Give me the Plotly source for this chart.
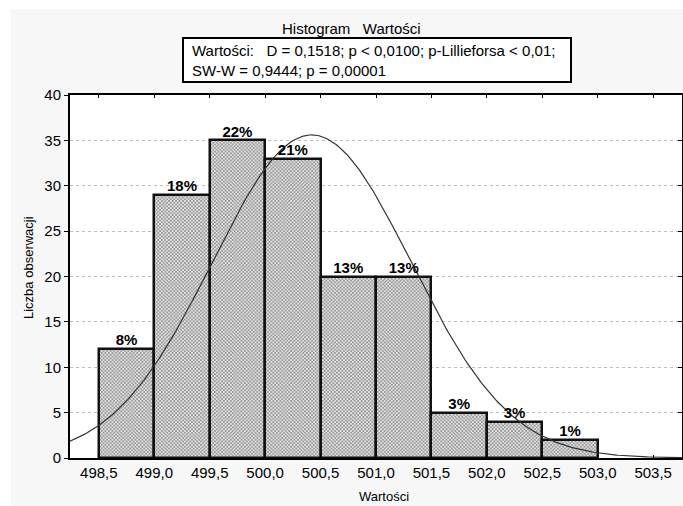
import numpy as np
import plotly.graph_objects as go

# ---- data ----
bin_left = [498.5, 499.0, 499.5, 500.0, 500.5, 501.0, 501.5, 502.0, 502.5]
counts = [12, 29, 35, 33, 20, 20, 5, 4, 2]
pct_labels = ["8%", "18%", "22%", "21%", "13%", "13%", "3%", "3%", "1%"]
bin_width = 0.5
x_ticks = [498.5, 499.0, 499.5, 500.0, 500.5, 501.0, 501.5, 502.0, 502.5, 503.0, 503.5]
y_ticks = [0, 5, 10, 15, 20, 25, 30, 35, 40]
fit_mean = 500.42
fit_sd = 0.8965
n_obs = sum(counts)

title_text = "Histogram   Wartości"
stats_text = ("Wartości:   D = 0,1518; p < 0,0100; p-Lillieforsa < 0,01;<br>"
              "SW-W = 0,9444; p = 0,00001")
x_title = "Wartości"
y_title = "Liczba obserwacji"

# ---- figure geometry ----
W, H = 683, 506
ML, MR, MT, MB = 70, 1, 95, 48
PW, PH = W - ML - MR, H - MT - MB
x_range = [498.24, 503.76]


def px_x(p):
    return (p - ML) / PW


def px_y(p):
    return (H - MB - p) / PH


centers = [b + bin_width / 2 for b in bin_left]

FONT = "Liberation Sans, Arial, sans-serif"

fig = go.Figure()

fig.add_trace(go.Bar(
    x=centers, y=counts, width=bin_width,
    marker=dict(
        color="#c4c4c4",
        line=dict(color="#111111", width=2.5),
        pattern=dict(shape="x", size=2.5, solidity=0.45,
                     fgcolor="#858585", bgcolor="#dedede"),
    ),
    hoverinfo="skip", showlegend=False,
))

# fitted normal curve
xc = np.linspace(x_range[0], x_range[1], 300)
yc = n_obs * bin_width / (fit_sd * np.sqrt(2 * np.pi)) * np.exp(-0.5 * ((xc - fit_mean) / fit_sd) ** 2)
fig.add_trace(go.Scatter(
    x=xc, y=yc, mode="lines",
    line=dict(color="#333333", width=1.2),
    hoverinfo="skip", showlegend=False,
))

# percentage labels
fig.add_trace(go.Scatter(
    x=centers, y=counts, mode="text", text=pct_labels,
    textposition="top center",
    textfont=dict(family=FONT, size=15, color="#000000", weight="bold"),
    hoverinfo="skip", showlegend=False, cliponaxis=False,
))

# invisible trace for right-side axis
fig.add_trace(go.Scatter(x=[None], y=[None], yaxis="y2", showlegend=False, hoverinfo="skip"))

fig.update_layout(
    template="none",
    width=W, height=H,
    margin=dict(l=ML, r=MR, t=MT, b=MB, pad=0, autoexpand=False),
    paper_bgcolor="#ffffff",
    plot_bgcolor="rgba(0,0,0,0)",
    separators=", ",
    font=dict(family=FONT, size=15, color="#000000"),
    bargap=0,
    xaxis=dict(
        range=x_range, tickvals=x_ticks, tickformat=".1f",
        ticks="inside", ticklen=3, tickwidth=1, tickcolor="#000000",
        showline=True, linecolor="#000000", linewidth=2, mirror="ticks",
        showgrid=False, zeroline=False, automargin=False,
        tickfont=dict(family=FONT, size=15, color="#000000"),
    ),
    yaxis=dict(
        range=[0, 40], tickvals=y_ticks,
        ticks="outside", ticklen=4, tickwidth=1, tickcolor="#000000",
        showline=True, linecolor="#000000", linewidth=2, mirror=True,
        showgrid=True, gridcolor="#bdbdbd", gridwidth=1, griddash="dot",
        zeroline=False, automargin=False,
        tickfont=dict(family=FONT, size=15, color="#000000"),
    ),
    yaxis2=dict(
        range=[0, 40], tickvals=y_ticks, overlaying="y", side="right",
        ticks="inside", ticklen=4, tickwidth=1, tickcolor="#000000",
        showticklabels=False, showgrid=False, zeroline=False, showline=False,
        automargin=False,
    ),
    shapes=[
        dict(type="rect", xref="paper", yref="paper", layer="below",
             x0=px_x(11), x1=px_x(W + 2), y0=px_y(H + 2), y1=px_y(9),
             fillcolor="#f7f7f7", line=dict(width=0)),
        dict(type="rect", xref="paper", yref="paper", layer="below",
             x0=0, x1=1, y0=0, y1=1,
             fillcolor="#ffffff", line=dict(width=0)),
        dict(type="rect", xref="paper", yref="paper",
             x0=px_x(183), x1=px_x(571), y0=px_y(82), y1=px_y(38),
             fillcolor="#ffffff", line=dict(color="#000000", width=2)),
    ],
    annotations=[
        dict(text=title_text, xref="paper", yref="paper",
             x=px_x(351), y=px_y(29), xanchor="center", yanchor="middle",
             showarrow=False, font=dict(family=FONT, size=15, color="#000000")),
        dict(text=stats_text, xref="paper", yref="paper",
             x=px_x(190), y=px_y(61), xanchor="left", yanchor="middle", align="left",
             showarrow=False, font=dict(family=FONT, size=15, color="#000000")),
        dict(text=y_title, xref="paper", yref="paper", textangle=-90,
             x=px_x(28), y=px_y(267), xanchor="center", yanchor="middle",
             showarrow=False, font=dict(family=FONT, size=13, color="#000000")),
        dict(text=x_title, xref="paper", yref="paper",
             x=px_x(384), y=px_y(487), xanchor="center", yanchor="top",
             showarrow=False, font=dict(family=FONT, size=13, color="#000000")),
    ],
)

fig.write_html("out.html", config={"displayModeBar": False},
               post_script="document.body.style.margin='0';")
